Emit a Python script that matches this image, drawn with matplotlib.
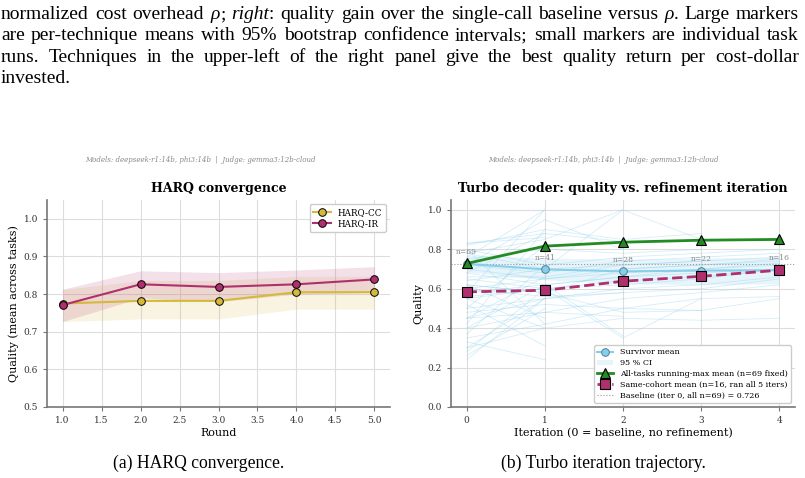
import numpy as np
import matplotlib
matplotlib.use('Agg')
import matplotlib.pyplot as plt

# ---- data ----
rounds = [1, 2, 3, 4, 5]
harq_cc = [0.775, 0.782, 0.782, 0.805, 0.805]
harq_cc_lo = [0.727, 0.734, 0.734, 0.760, 0.760]
harq_cc_hi = [0.812, 0.836, 0.836, 0.847, 0.847]
harq_ir = [0.771, 0.826, 0.819, 0.826, 0.839]
harq_ir_lo = [0.727, 0.790, 0.780, 0.800, 0.805]
harq_ir_hi = [0.813, 0.862, 0.857, 0.864, 0.873]

iters = [0, 1, 2, 3, 4]
survivor_mean = [0.726, 0.698, 0.688, 0.692, 0.694]
survivor_lo = [0.685, 0.645, 0.625, 0.620, 0.625]
survivor_hi = [0.770, 0.755, 0.750, 0.755, 0.760]
survivor_n = [69, 41, 28, 22, 16]
running_max = [0.728, 0.816, 0.836, 0.846, 0.850]
same_cohort = [0.584, 0.592, 0.638, 0.663, 0.694]
baseline = 0.726

task_runs = [
    [0.45, 0.55, 0.60, 0.62, 0.66], [0.62, 0.58, 0.70, 0.72, 0.75],
    [0.70, 0.65, 0.68, 0.70, 0.72], [0.40, 0.48, 0.55, 0.58, 0.62],
    [0.55, 0.60, 0.62, 0.65, 0.70], [0.80, 0.72, 0.76, 0.78, 0.80],
    [0.35, 0.42, 0.50, 0.55, 0.56], [0.60, 0.65, 0.70, 0.72, 0.74],
    [0.68, 0.62, 0.66, 0.68, 0.70], [0.50, 0.55, 0.58, 0.60, 0.65],
    [0.72, 0.68, 0.74, 0.76, 0.78], [0.30, 0.40, 0.45, 0.44, 0.45],
    [0.65, 0.60, 0.64, 0.66, 0.70], [0.58, 0.62, 0.66, 0.70, 0.73],
    [0.62, 0.58, 0.48, 0.49, 0.55], [0.66, 0.66, 0.72, 0.74, 0.76],
    [0.82, 0.90, 0.85, 0.88], [0.75, 0.80, 0.78, 0.80],
    [0.48, 0.52, 0.50, 0.49], [0.78, 0.70, 0.72, 0.74],
    [0.56, 0.60, 0.35, 0.55], [0.64, 0.70, 1.00, 0.85],
    [0.40, 0.62, 0.36], [0.72, 0.95, 0.80], [0.83, 0.88, 0.84],
    [0.60, 0.56, 0.58], [0.45, 0.48, 0.46], [0.78, 0.85, 1.00],
    [0.24, 0.55], [0.30, 0.55], [0.52, 0.31], [0.58, 1.00], [0.42, 0.90],
    [0.33, 0.24], [0.76, 1.00], [0.80, 0.42], [0.28, 0.60], [0.83, 0.86],
    [0.50, 0.82], [0.62, 0.45], [0.37, 0.72], [0.26, 0.50], [0.68, 0.88],
    [0.45, 0.66], [0.55, 0.40],
]

caption_lines = [
    [[("normalized", "n")], [("cost", "n")], [("overhead", "n")], [("ρ", "i"), (";", "n")],
     [("right", "i"), (":", "n")], [("quality", "n")], [("gain", "n")], [("over", "n")],
     [("the", "n")], [("single-call", "n")], [("baseline", "n")], [("versus", "n")],
     [("ρ", "i"), (".", "n")], [("Large", "n")], [("markers", "n")]],
    [[(w, "n")] for w in "are per-technique means with 95% bootstrap confidence intervals; small markers are individual task".split()],
    [[(w, "n")] for w in "runs.  Techniques in the upper-left of the right panel give the best quality return per cost-dollar".split()],
    [[("invested.", "n")]],
]

W, H = 805, 478
fig = plt.figure(figsize=(W / 100, H / 100), dpi=100)
renderer = fig.canvas.get_renderer()
cap_font = 'Liberation Serif'
cap_size = 14.0
sub_size = 12.7


def text_width(s, **kw):
    t = fig.text(0, 0, s, **kw)
    w = t.get_window_extent(renderer).width
    t.remove()
    return w


def put_line(words, y_px, x0, x1, justify):
    # measure each piece, then spread the gaps so the line spans x0..x1
    measured = []
    for word in words:
        parts = []
        for s, st in word:
            kw = dict(family=cap_font, size=cap_size, style='italic' if st == 'i' else 'normal')
            parts.append((s, kw, text_width(s, **kw)))
        measured.append(parts)
    words_w = sum(p[2] for parts in measured for p in parts)
    if justify and len(measured) > 1:
        gap = (x1 - x0 - words_w) / (len(measured) - 1)
    else:
        gap = text_width('a a', family=cap_font, size=cap_size) - \
            2 * text_width('a', family=cap_font, size=cap_size)
    x = x0
    for parts in measured:
        for s, kw, pw in parts:
            fig.text(x / W, 1 - y_px / H, s, va='baseline', **kw)
            x += pw
        x += gap


for i, line in enumerate(caption_lines):
    put_line(line, 19 + 21.3 * i, 1, 799, i < 3)

plt.rcParams['font.family'] = 'DejaVu Serif'


def style_ax(ax):
    for s in ['top', 'right']:
        ax.spines[s].set_visible(False)
    for s in ['left', 'bottom']:
        ax.spines[s].set_color('#777777')
        ax.spines[s].set_linewidth(1.2)
    ax.tick_params(labelsize=6.5, labelcolor='#333333', color='#777777', length=3, width=0.8)
    ax.grid(True, color='#dddddd', lw=0.8)
    ax.set_axisbelow(True)


# ---- left panel ----
ax1 = fig.add_axes([47 / W, 1 - 407 / H, 343 / W, 207 / H])
style_ax(ax1)
cc_col = '#d4b93a'
ir_col = '#b0306f'
ax1.fill_between(rounds, harq_cc_lo, harq_cc_hi, color=cc_col, alpha=0.15, lw=0)
ax1.fill_between(rounds, harq_ir_lo, harq_ir_hi, color=ir_col, alpha=0.15, lw=0)
ax1.plot(rounds, harq_cc, color=cc_col, lw=1.5, marker='o', ms=5.5, mec='black', mew=0.7, label='HARQ-CC')
ax1.plot(rounds, harq_ir, color=ir_col, lw=1.5, marker='o', ms=5.5, mec='black', mew=0.7, label='HARQ-IR')
ax1.set_xlim(0.8, 5.2)
ax1.set_ylim(0.5, 1.05)
ax1.set_xticks(np.arange(1.0, 5.01, 0.5))
ax1.set_yticks(np.arange(0.5, 1.01, 0.1))
ax1.set_xlabel('Round', fontsize=8, labelpad=2)
ax1.set_ylabel('Quality (mean across tasks)', fontsize=8, labelpad=3)
ax1.set_title('HARQ convergence', fontsize=9, fontweight='bold', pad=6)
ax1.legend(loc='upper right', fontsize=6.3, framealpha=1, edgecolor='#cccccc', fancybox=True,
           handlelength=2.0, borderpad=0.4, labelspacing=0.3)

# ---- right panel ----
ax2 = fig.add_axes([451 / W, 1 - 407 / H, 344 / W, 207 / H])
style_ax(ax2)
for run in task_runs:
    ax2.plot(iters[:len(run)], run, color='#87ceeb', lw=0.6, alpha=0.35, zorder=1)
ax2.fill_between(iters, survivor_lo, survivor_hi, color='#87ceeb', alpha=0.2, lw=0,
                 label='95 % CI', zorder=2)
ax2.plot(iters, survivor_mean, color='#87ceeb', lw=1.5, marker='o', ms=5.5, mfc='#87ceeb',
         mec='#4f7f99', mew=0.7, label='Survivor mean', zorder=3)
ax2.plot(iters, running_max, color='#228b22', lw=2, marker='^', ms=7, mec='black', mew=0.8,
         label='All-tasks running-max mean (n=69 fixed)', zorder=4)
ax2.plot(iters, same_cohort, color=ir_col, lw=2, ls='--', marker='s', ms=6.5, mec='black', mew=0.8,
         label='Same-cohort mean (n=16, ran all 5 iters)', zorder=4)
ax2.axhline(baseline, color='#999999', lw=0.8, ls=':', zorder=2,
            label='Baseline (iter 0, all n=69) = 0.726')
for x, m, n in zip(iters, survivor_mean, survivor_n):
    ax2.text(x, m + 0.06, f'n={n}', ha='center', va='center', fontsize=5.5, color='#888888', zorder=5)
ax2.set_xlim(-0.2, 4.2)
ax2.set_ylim(0, 1.05)
ax2.set_xticks(iters)
ax2.set_yticks(np.arange(0, 1.01, 0.2))
ax2.set_xlabel('Iteration (0 = baseline, no refinement)', fontsize=8, labelpad=2)
ax2.set_ylabel('Quality', fontsize=8, labelpad=3)
ax2.set_title('Turbo decoder: quality vs. refinement iteration', fontsize=9, fontweight='bold', pad=6)
h, l = ax2.get_legend_handles_labels()
order = ['Survivor mean', '95 % CI', 'All-tasks running-max mean (n=69 fixed)',
         'Same-cohort mean (n=16, ran all 5 iters)', 'Baseline (iter 0, all n=69) = 0.726']
hd = dict(zip(l, h))
ax2.legend([hd[k] for k in order], order, loc='lower right', fontsize=5.8, framealpha=1,
           edgecolor='#cccccc', handlelength=2.0, borderpad=0.4, labelspacing=0.35)

# headers
hdr = 'Models: deepseek-r1:14b, phi3:14b  |  Judge: gemma3:12b-cloud'
fig.text(200 / W, 1 - 160 / H, hdr, ha='center', va='center', fontsize=5, style='italic', color='#888888')
fig.text(603 / W, 1 - 160 / H, hdr, ha='center', va='center', fontsize=5, style='italic', color='#888888')

# subcaptions
fig.text(199 / W, 1 - 468 / H, '(a) HARQ convergence.', ha='center', va='baseline',
         family=cap_font, size=sub_size)
fig.text(603 / W, 1 - 468 / H, '(b) Turbo iteration trajectory.', ha='center', va='baseline',
         family=cap_font, size=sub_size)

fig.savefig('out.png', dpi=100)
